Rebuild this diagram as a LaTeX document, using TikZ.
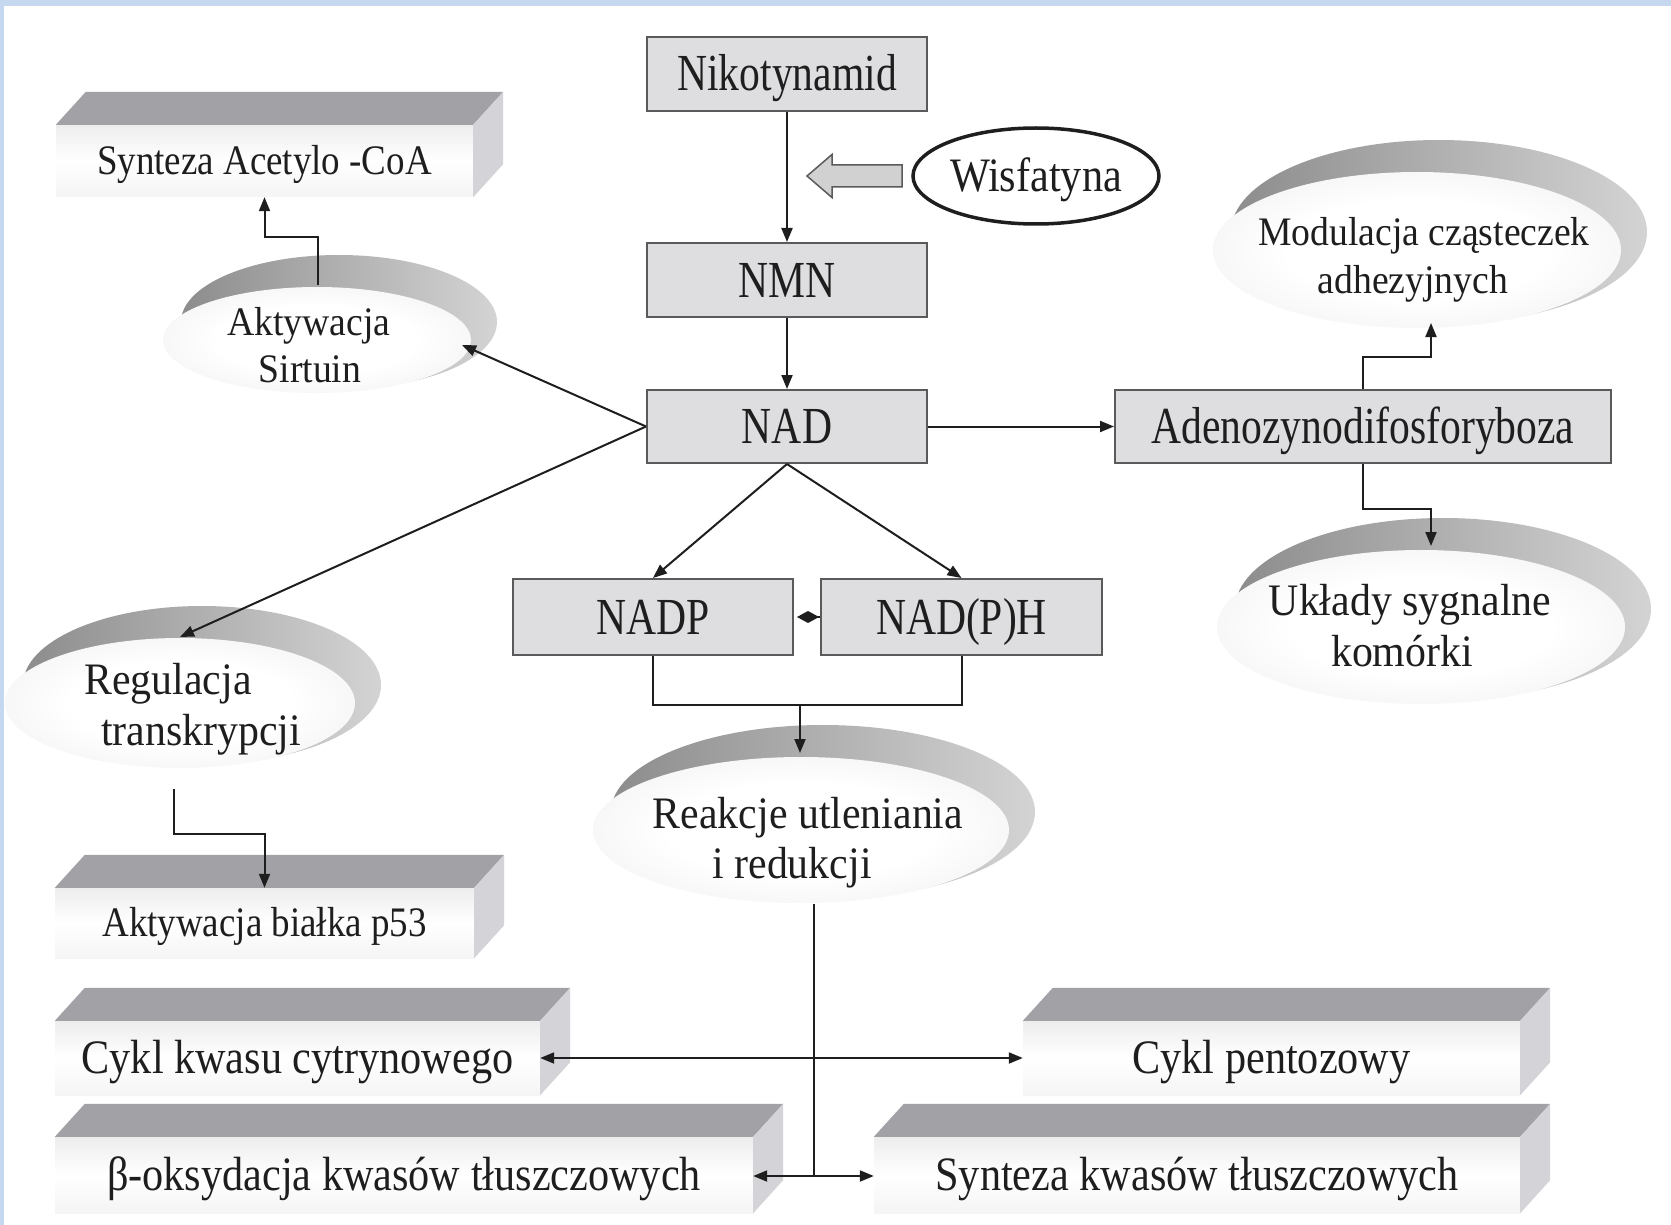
\documentclass[tikz,border=0pt]{standalone}
\usepackage{fontspec}
\setmainfont{Liberation Serif}
\newfontfamily\boxfont[FakeStretch=0.8]{Liberation Serif}
\newfontfamily\slabfont[FakeStretch=0.88]{Liberation Serif}
\newfontfamily\cloudfont[FakeStretch=0.93]{Liberation Serif}
\usetikzlibrary{arrows.meta,shapes.geometric,calc}

\definecolor{framebar}{HTML}{C5D8F0}
\definecolor{boxfill}{HTML}{DEDEE0}
\definecolor{boxline}{HTML}{5A5A5A}
\definecolor{slabtopc}{HTML}{A2A2A6}
\definecolor{slabsidec}{HTML}{D4D4D8}
\definecolor{inkc}{HTML}{1E1E1E}

% white face of a disc: plain white with a very faint rim
\pgfdeclareradialshading{cloudglow}{\pgfpoint{0bp}{0bp}}{color(0bp)=(white); color(16bp)=(white); color(25bp)=(black!3); color(50bp)=(black!3)}

\tikzset{
  procbox/.style={draw=boxline, fill=boxfill, line width=2pt, inner sep=0pt,
    text height=35pt, text depth=1pt, text=inkc,
    font=\boxfont\fontsize{52}{60}\selectfont},
  slabface/.style={inner sep=0pt, top color=black!7, bottom color=black!4,
    middle color=white, text=inkc},
  bigslab/.style={slabface, text height=32.6pt, text depth=1pt,
    font=\slabfont\fontsize{48}{56}\selectfont},
  smallslab/.style={slabface, text height=28.5pt, text depth=1pt,
    font=\slabfont\fontsize{42}{50}\selectfont},
  cloudbig/.style={inner sep=0pt, text height=30.6pt, text depth=1pt, text=inkc,
    font=\cloudfont\fontsize{45}{54}\selectfont},
  cloudsmall/.style={inner sep=0pt, text height=27.5pt, text depth=1pt, text=inkc,
    font=\cloudfont\fontsize{40.5}{48}\selectfont},
  rim/.style={left color=black!45, right color=black!17},
  face/.style={shading=cloudglow},
  link/.style={draw=inkc, line width=2pt},
  arr/.style={link, -{Triangle[length=14pt,width=11pt]}},
}

% top and right faces of a slab whose front face is node #1
\newcommand\slabsides[1]{%
  \fill[slabtopc] (#1.north west) -- (#1.north east)
    -- ([shift={(30,-33)}]#1.north east) -- ([shift={(30,-33)}]#1.north west) -- cycle;
  \fill[slabsidec] (#1.north east) -- ([shift={(30,-33)}]#1.north east)
    -- ([shift={(30,-33)}]#1.south east) -- (#1.south east) -- cycle;}

\begin{document}
\begin{tikzpicture}[x=1pt,y=-1pt]
\useasboundingbox (0,0) rectangle (1671,1225);
\fill[white] (0,0) rectangle (1671,1225);

% discs: grey rim behind, white face in front
\shade[rim] (339,322) ellipse [x radius=158, y radius=67];
\shade[face] (317,340) ellipse [x radius=154, y radius=53];

\shade[rim] (202,685) ellipse [x radius=179, y radius=79];
\shade[face] (180,703) ellipse [x radius=175, y radius=65];

\shade[rim] (1443,609) ellipse [x radius=208, y radius=91];
\shade[face] (1421,627) ellipse [x radius=204, y radius=77];

\shade[rim] (1439,232) ellipse [x radius=208, y radius=92];
\shade[face] (1417,250) ellipse [x radius=204, y radius=78];

\shade[rim] (823,812) ellipse [x radius=212, y radius=87];
\shade[face] (801,830) ellipse [x radius=208, y radius=73];

\node[cloudsmall] (sirt1) at (309,322) {Aktywacja};
\node[cloudsmall] (sirt2) at (310,369) {Sirtuin};
\node[cloudbig] (reg1) at (168,680) {Regulacja};
\node[cloudbig] (reg2) at (201,731) {transkrypcji};
\node[cloudbig] (uk1) at (1410,601) {Układy sygnalne};
\node[cloudbig] (uk2) at (1402,652) {komórki};
\node[cloudsmall] (mod1) at (1424,232) {Modulacja cząsteczek};
\node[cloudsmall] (mod2) at (1413,280) {adhezyjnych};
\node[cloudbig] (re1) at (808,814) {Reakcje utleniania};
\node[cloudbig] (re2) at (792,864) {i redukcji};

% slabs
\node[smallslab, minimum width=417pt, minimum height=72pt] (acetyl) at (264.5,161) {Synteza Acetylo -CoA};
\slabsides{acetyl}
\node[smallslab, minimum width=419pt, minimum height=70pt] (p53) at (264.5,923) {Aktywacja białka p53};
\slabsides{p53}
\node[bigslab, minimum width=485pt, minimum height=74pt] (cykl) at (297.5,1058) {Cykl kwasu cytrynowego};
\slabsides{cykl}
\node[bigslab, minimum width=497pt, minimum height=74pt] (pento) at (1271.5,1058) {Cykl pentozowy};
\slabsides{pento}
\node[bigslab, minimum width=698pt, minimum height=76pt] (boks) at (404,1175) {β-oksydacja kwasów tłuszczowych};
\slabsides{boks}
\node[bigslab, minimum width=646pt, minimum height=76pt] (synt) at (1197,1175) {Synteza kwasów tłuszczowych};
\slabsides{synt}

% compound boxes
\node[procbox, minimum width=280pt, minimum height=74pt] (nik) at (787,74) {Nikotynamid};
\node[procbox, minimum width=280pt, minimum height=74pt] (nmn) at (787,280) {NMN};
\node[procbox, minimum width=280pt, minimum height=73pt] (nad) at (787,426.5) {NAD};
\node[procbox, minimum width=280pt, minimum height=76pt] (nadp) at (653,617) {NADP};
\node[procbox, minimum width=281pt, minimum height=76pt] (nadph) at (961.5,617) {NAD(P)H};
\node[procbox, minimum width=496pt, minimum height=73pt] (adeno) at (1363,426.5) {Adenozynodifosforyboza};

% Wisfatyna and its block arrow
\node[draw=inkc, ellipse, line width=3.5pt, inner sep=0pt, minimum width=246pt,
  minimum height=96pt, text height=32.6pt, text depth=1pt, text=inkc,
  font=\slabfont\fontsize{48}{56}\selectfont] (wis) at (1036,176) {Wisfatyna};
\filldraw[fill=black!18, draw=boxline, line width=1.5pt]
  (902,165) -- (832,165) -- (832,154.5) -- (807,176) -- (832,197.5) -- (832,187) -- (902,187) -- cycle;

% connector ends on the discs
\coordinate (sirtIn) at (462,345);
\coordinate (sirtTop) at (318,285);
\coordinate (regIn) at (180,637);
\coordinate (regOut) at (174,789);
\coordinate (modIn) at (1431,323);
\coordinate (ukIn) at (1431,546);
\coordinate (brk) at (800,705);
\coordinate (reactIn) at (800,753);
\coordinate (reactOut) at (814,904);
\coordinate (jA) at (814,1058);
\coordinate (jB) at (814,1176);

% connectors
\draw[arr] (nik.south) -- (nmn.north);
\draw[arr] (nmn.south) -- (nad.north);
\draw[arr] (nad.east) -- (adeno.west);
\draw[arr] (nad.west) -- (sirtIn);
\draw[arr] (nad.west) -- (regIn);
\draw[arr] (nad.south) -- (nadp.north);
\draw[arr] (nad.south) -- (nadph.north);
\draw[link, {Diamond[length=22pt,width=12pt]}-] ([xshift=3pt]nadp.east) -- (nadph.west);
\draw[link] (nadp.south) |- (brk) -| (nadph.south);
\draw[arr] (brk) -- (reactIn);
\draw[arr] (sirtTop) -- ++(0,-48) -| (acetyl.south);
\draw[arr] (regOut) -- ++(0,45) -| (p53.north);
\draw[arr] (adeno.north) -- ++(0,-32) -| (modIn);
\draw[arr] (adeno.south) -- ++(0,45) -| (ukIn);
\draw[link] (reactOut) -- (jB);
\draw[arr] (jA) -- (jA -| cykl.east);
\draw[arr] (jA) -- (jA -| pento.west);
\draw[arr] (jB) -- (jB -| boks.east);
\draw[arr] (jB) -- (jB -| synt.west);

% frame strips
\fill[framebar] (0,0) rectangle (1671,6);
\fill[framebar] (0,0) rectangle (3.5,1225);
\end{tikzpicture}
\end{document}
